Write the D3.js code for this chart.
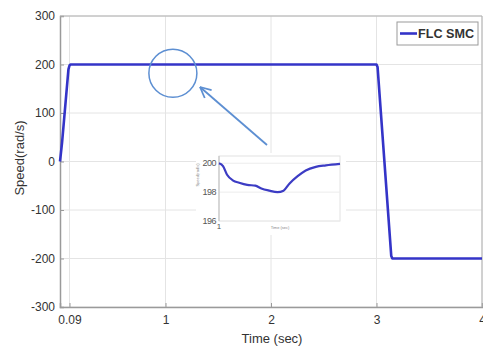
<!DOCTYPE html>
<html>
<head>
<meta charset="utf-8">
<script src="https://cdn.jsdelivr.net/npm/d3@7"></script>
<style>
  body { margin: 0; background: #fff; }
  svg { font-family: "Liberation Sans", Arial, sans-serif; }
</style>
</head>
<body>
<div class="chart"></div>
<script>
// main trace
const timeVals = [0, 0.02, 0.08, 0.09, 0.1, 3.0, 3.01, 3.14, 3.15, 4.0];
const speedVals = [0, 40, 190, 198, 200, 200, 195, -195, -200, -200];
const xTicks = [0.09, 1, 2, 3, 4];
const yTicks = [-300, -200, -100, 0, 100, 200, 300];

// zoomed inset trace
const insetTime = [1.00, 1.01, 1.02, 1.035, 1.05, 1.07, 1.09, 1.105, 1.125, 1.145, 1.16, 1.175, 1.195, 1.215, 1.24, 1.265, 1.30];
const insetSpeed = [200.0, 199.8, 199.2, 198.8, 198.65, 198.5, 198.45, 198.25, 198.1, 198.0, 198.1, 198.6, 199.1, 199.5, 199.75, 199.85, 199.95];
const insetYTicks = [196, 198, 200];

const W = 483, H = 350;
const margin = { top: 16, right: 1, bottom: 43, left: 60 };

const svg = d3.select(".chart").append("svg")
  .attr("width", W).attr("height", H);

const x = d3.scaleLinear().domain([0, 4]).range([margin.left, W - margin.right]);
const y = d3.scaleLinear().domain([-300, 300]).range([H - margin.bottom, margin.top]);

// grid
svg.append("g").selectAll("line").data(yTicks).join("line")
  .attr("x1", x(0)).attr("x2", x(4))
  .attr("y1", d => y(d)).attr("y2", d => y(d))
  .attr("stroke", "#e4e4e4").attr("stroke-width", 1);
svg.append("g").selectAll("line").data(xTicks).join("line")
  .attr("x1", d => x(d)).attr("x2", d => x(d))
  .attr("y1", y(-300)).attr("y2", y(300))
  .attr("stroke", "#e4e4e4").attr("stroke-width", 1);

// axes (plain hyphen minus like the original)
const xAxis = svg.append("g")
  .attr("transform", "translate(0," + y(-300) + ")")
  .call(d3.axisBottom(x).tickValues(xTicks).tickSize(-4).tickPadding(8)
    .tickFormat(d => String(d)));
const yAxis = svg.append("g")
  .attr("transform", "translate(" + x(0) + ",0)")
  .call(d3.axisLeft(y).tickValues(yTicks).tickSize(-4).tickPadding(5)
    .tickFormat(d => String(d)));
[xAxis, yAxis].forEach(g => {
  g.select(".domain").attr("stroke", "#9a9a9a").attr("stroke-width", 1.5);
  g.selectAll(".tick line").attr("stroke", "#9a9a9a");
  g.selectAll("text").attr("fill", "#333").attr("font-size", 12);
});
// top + right frame
svg.append("line").attr("x1", x(0)).attr("x2", x(4)).attr("y1", y(300)).attr("y2", y(300))
  .attr("stroke", "#b0b0b0");
svg.append("line").attr("x1", x(4)).attr("x2", x(4)).attr("y1", y(300)).attr("y2", y(-300))
  .attr("stroke", "#b0b0b0");

// labels
svg.append("text")
  .attr("x", 272).attr("y", 343)
  .attr("text-anchor", "middle").attr("font-size", 13).attr("fill", "#333")
  .text("Time (sec)");
svg.append("text")
  .attr("transform", "translate(24,158) rotate(-90)")
  .attr("text-anchor", "middle").attr("font-size", 13).attr("fill", "#333")
  .text("Speed(rad/s)");

// main line
const line = d3.line().x((d, i) => x(timeVals[i])).y(d => y(d));
svg.append("path")
  .datum(speedVals)
  .attr("fill", "none")
  .attr("stroke", "#3434c8")
  .attr("stroke-width", 2.6)
  .attr("stroke-linejoin", "round")
  .attr("d", line);

// legend
const leg = svg.append("g").attr("transform", "translate(397,22)");
leg.append("rect").attr("width", 81).attr("height", 23)
  .attr("fill", "#fff").attr("stroke", "#9a9a9a");
leg.append("line").attr("x1", 3).attr("x2", 20).attr("y1", 11.5).attr("y2", 11.5)
  .attr("stroke", "#3434c8").attr("stroke-width", 2.6);
leg.append("text").attr("x", 21).attr("y", 16)
  .attr("font-size", 12).attr("font-weight", "bold").attr("fill", "#333")
  .attr("textLength", 56).attr("lengthAdjust", "spacingAndGlyphs")
  .text("FLC SMC");

// highlight circle + arrow
const circleT = 1.07, circleV = 182;
svg.append("circle")
  .attr("cx", x(circleT)).attr("cy", y(circleV)).attr("r", 24)
  .attr("fill", "none").attr("stroke", "#5d8fd2").attr("stroke-width", 1.5);
const ax0 = 267, ay0 = 145, ax1 = 200, ay1 = 87;
svg.append("line").attr("x1", ax0).attr("y1", ay0).attr("x2", ax1).attr("y2", ay1)
  .attr("stroke", "#5d8fd2").attr("stroke-width", 1.8);
const ang = Math.atan2(ay0 - ay1, ax0 - ax1);
[-0.45, 0.45].forEach(da => {
  svg.append("line").attr("x1", ax1).attr("y1", ay1)
    .attr("x2", ax1 + 12 * Math.cos(ang + da)).attr("y2", ay1 + 12 * Math.sin(ang + da))
    .attr("stroke", "#5d8fd2").attr("stroke-width", 1.8);
});

// inset
const ix = d3.scaleLinear().domain([1, 1.3]).range([219, 340]);
const iy = d3.scaleLinear().domain([196, 200.5]).range([221, 156]);
svg.append("rect").attr("x", 196).attr("y", 153).attr("width", 150).attr("height", 82)
  .attr("fill", "#fff");
svg.append("rect").attr("x", 219).attr("y", 156).attr("width", 121).attr("height", 65)
  .attr("fill", "#fff").attr("stroke", "#e2e2e2");
svg.append("g").selectAll("line").data(insetYTicks).join("line")
  .attr("x1", 219).attr("x2", 340).attr("y1", d => iy(d)).attr("y2", d => iy(d))
  .attr("stroke", "#ececec");
svg.append("line").attr("x1", 219).attr("x2", 219).attr("y1", 156).attr("y2", 221)
  .attr("stroke", "#bdbdbd");
svg.append("g").selectAll("text").data(insetYTicks).join("text")
  .attr("x", 216).attr("y", d => iy(d) + 3)
  .attr("text-anchor", "end").attr("font-size", 9).attr("fill", "#555")
  .attr("letter-spacing", -0.5)
  .text(d => d);
svg.append("text").attr("x", ix(1)).attr("y", 229)
  .attr("text-anchor", "middle").attr("font-size", 8).attr("fill", "#555").text("1");
svg.append("text").attr("x", 280).attr("y", 229)
  .attr("text-anchor", "middle").attr("font-size", 4).attr("fill", "#888").text("Time (sec)");
svg.append("text")
  .attr("transform", "translate(199,175) rotate(-90)")
  .attr("text-anchor", "middle").attr("font-size", 4).attr("fill", "#888").text("Speed(rad/s)");
const insetLine = d3.line().curve(d3.curveMonotoneX)
  .x((d, i) => ix(insetTime[i])).y(d => iy(d));
svg.append("path").datum(insetSpeed)
  .attr("fill", "none").attr("stroke", "#3c3cc4").attr("stroke-width", 2.2)
  .attr("d", insetLine);
</script>
</body>
</html>
